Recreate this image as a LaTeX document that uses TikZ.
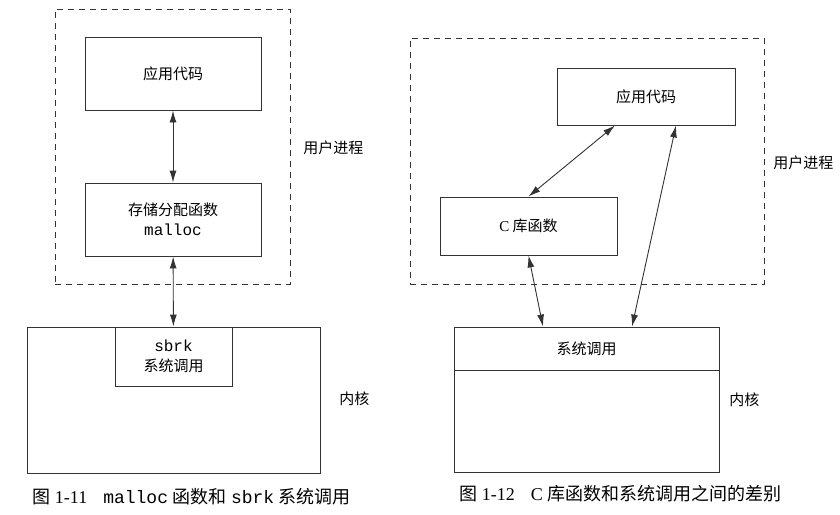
\documentclass[tikz,border=0pt]{standalone}
\usepackage{fontspec}
\setmainfont{Liberation Serif}
\setmonofont{Liberation Mono}
\newfontfamily\cjk{Noto Sans CJK SC}
\usetikzlibrary{arrows.meta}
\begin{document}
\begin{tikzpicture}[x=1pt, y=-1pt, line width=0.9pt, draw=black!80,
    box/.style = {draw, inner sep=0pt, font=\cjk\fontsize{15}{19}\selectfont, align=center},
    user/.style = {draw, dash pattern=on 6pt off 5pt, inner sep=0pt},
    lbl/.style = {anchor=west, inner sep=0pt, font=\cjk\fontsize{15}{19}\selectfont},
    figcap/.style = {anchor=west, inner sep=0pt, font=\fontsize{18}{20}\selectfont},
    link/.style = {{Latex[length=12pt,width=7pt]}-{Latex[length=12pt,width=7pt]}}]
    \useasboundingbox (0,0) rectangle (840,514);
    \node[user, minimum width=235pt, minimum height=275pt] (user1) at (172.5,146.5) {};
    \node[box, minimum width=176pt, minimum height=73pt] (app1) at (173,73.5) {应用代码};
    \node[box, minimum width=176pt, minimum height=73pt] (malloc1) at (173,219.5) {存储分配函数\\[1pt]{\ttfamily\fontsize{16}{19}\selectfont malloc}};
    \node[box, minimum width=293pt, minimum height=146pt] (kern1) at (173.5,400) {};
    \node[box, minimum width=117pt, minimum height=59pt] (sbrk1) at (173.5,356.5) {{\ttfamily\fontsize{16}{19}\selectfont sbrk}\\[1pt]系统调用};
    \node[lbl] (ulbl1) at (303,148) {用户进程};
    \node[lbl] (klbl1) at (339,399) {内核};
    \draw[link] (app1) -- (malloc1);
    \draw[link] (malloc1) -- (sbrk1);
    \node[figcap] (cap1) at (32,497) {{\cjk 图} 1-11\hspace{16pt}{\ttfamily\fontsize{18}{20}\selectfont malloc} {\cjk 函数和} {\ttfamily\fontsize{18}{20}\selectfont sbrk} {\cjk 系统调用}};

    \node[user, minimum width=354pt, minimum height=246pt] (user2) at (587,161) {};
    \node[box, minimum width=178pt, minimum height=57pt] (app2) at (646,96.5) {应用代码};
    \node[box, minimum width=177pt, minimum height=58pt] (clib2) at (528.5,226) {{\rmfamily C} 库函数};
    \node[box, minimum width=265pt, minimum height=145pt] (kern2) at (586.5,399.5) {};
    \node[box, minimum width=265pt, minimum height=43pt] (sys2) at (586.5,348.5) {系统调用};
    \node[lbl] (ulbl2) at (773,163) {用户进程};
    \node[lbl] (klbl2) at (729,400) {内核};
    \draw[link] (clib2.north) -- ([xshift=-31pt]app2.south);
    \draw[link] ([xshift=30pt]app2.south) -- ([xshift=45.5pt]sys2.north);
    \draw[link] (clib2.south) -- ([xshift=-43.5pt]sys2.north);
    \node[figcap] (cap2) at (459,494) {{\cjk 图} 1-12\hspace{16pt}C {\cjk 库函数和系统调用之间的差别}};
\end{tikzpicture}
\end{document}
